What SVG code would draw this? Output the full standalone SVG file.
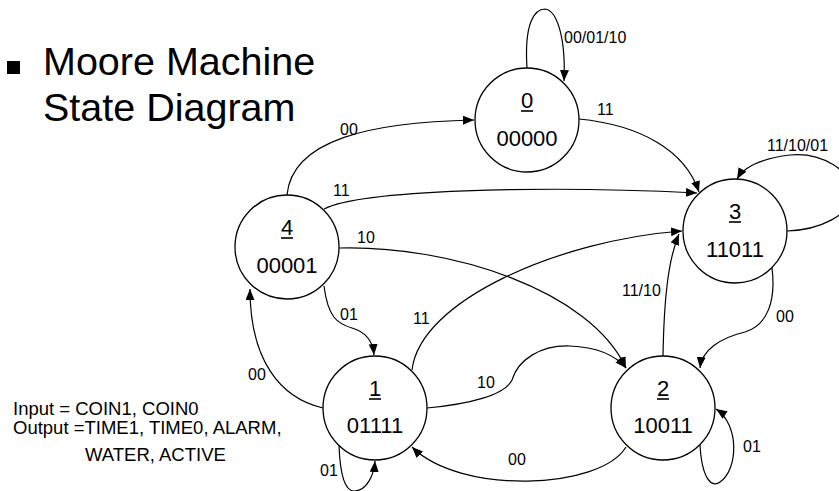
<svg xmlns="http://www.w3.org/2000/svg" width="839" height="491" viewBox="0 0 839 491">
<defs>
<marker id="ah" markerUnits="userSpaceOnUse" markerWidth="12" markerHeight="10" refX="11" refY="4.5" orient="auto">
<path d="M0,0 L11,4.5 L0,9 Z" fill="#000"/>
</marker>
<style>
.st{fill:#fff;stroke:#000;stroke-width:1.3}
.e{fill:none;stroke:#000;stroke-width:1.2}
.ea{fill:none;stroke:#000;stroke-width:1.2;marker-end:url(#ah)}
.t{font-family:"Liberation Sans",Arial,sans-serif;fill:#000}
.n{font-size:22px;text-anchor:middle}
.l{font-size:16px}
.g{font-size:18.5px}
.h{font-size:39.5px}
.ul{stroke:#000;stroke-width:1.6}
</style>
</defs>
<rect width="839" height="491" fill="#fff"/>
<g id="title">
<rect x="7" y="61" width="13" height="13" fill="#000"/>
<text class="t h" x="43" y="75">Moore Machine</text>
<text class="t h" x="43" y="121">State Diagram</text>
</g>
<g id="legend">
<text class="t g" x="13" y="415">Input = COIN1, COIN0</text>
<text class="t g" x="13" y="434">Output =TIME1, TIME0, ALARM,</text>
<text class="t g" x="85" y="461">WATER, ACTIVE</text>
</g>
<g id="connectors">
<path class="ea" d="M527,68 C524,22 535,9 545,9 C556,10 566,35 564,81"/>
<text class="t l" x="564" y="43">00/01/10</text>
<path class="ea" d="M287,195 C292,140 370,122 474,120"/>
<text class="t l" x="340" y="135">00</text>
<path class="ea" d="M579,119 C640,125 685,150 699,192"/>
<text class="t l" x="597" y="115">11</text>
<path class="ea" d="M324,209 C360,190 540,185 697,193"/>
<text class="t l" x="333" y="196">11</text>
<path class="ea" d="M339,248 C450,245 590,290 626,368"/>
<text class="t l" x="357" y="243">10</text>
<path class="ea" d="M324,286 C328,318 338,324 352,328 C366,332 373,342 374,355"/>
<text class="t l" x="340" y="320">01</text>
<path class="ea" d="M323,408 C280,398 250,360 250,289"/>
<text class="t l" x="248" y="380">00</text>
<path class="ea" d="M412,370 C420,300 560,240 682,231"/>
<text class="t l" x="413" y="324">11</text>
<path class="ea" d="M427,408 C470,404 505,395 512,380 C518,360 540,345 570,346 C595,347 615,355 626,368"/>
<text class="t l" x="477" y="388">10</text>
<path class="ea" d="M663,356 C664,300 668,260 679,234"/>
<text class="t l" x="622" y="296">11/10</text>
<path class="ea" d="M772,268 C776,300 768,325 745,332 C720,338 702,350 700,368"/>
<text class="t l" x="776" y="322">00</text>
<path class="ea" d="M787,231 C820,230 850,215 852,195 C854,170 820,152 790,155 C765,158 745,165 737,179"/>
<text class="t l" x="767" y="151">11/10/01</text>
<path class="ea" d="M700,445 C702,480 712,488 720,482 C738,470 740,425 716,409"/>
<text class="t l" x="743" y="452">01</text>
<path class="ea" d="M339,445 C340,475 345,492 355,491 C367,490 374,475 375,461"/>
<text class="t l" x="320" y="476">01</text>
<path class="ea" d="M626,447 C600,490 460,495 412,447"/>
<text class="t l" x="508" y="465">00</text>
</g>
<g id="s0">
<circle class="st" cx="527" cy="120" r="52"/>
<text class="t n" x="527" y="108">0</text>
<line class="ul" x1="521" y1="111" x2="533" y2="111"/>
<text class="t n" x="527" y="146">00000</text>
</g>
<g id="s1">
<circle class="st" cx="375" cy="408" r="52"/>
<text class="t n" x="375" y="396">1</text>
<line class="ul" x1="369" y1="399" x2="381" y2="399"/>
<text class="t n" x="375" y="433">01111</text>
</g>
<g id="s2">
<circle class="st" cx="663" cy="408" r="52"/>
<text class="t n" x="663" y="396">2</text>
<line class="ul" x1="657" y1="399" x2="669" y2="399"/>
<text class="t n" x="663" y="433">10011</text>
</g>
<g id="s3">
<circle class="st" cx="735" cy="231" r="52"/>
<text class="t n" x="735" y="219">3</text>
<line class="ul" x1="729" y1="222" x2="741" y2="222"/>
<text class="t n" x="735" y="257">11011</text>
</g>
<g id="s4">
<circle class="st" cx="287" cy="247" r="52"/>
<text class="t n" x="287" y="235">4</text>
<line class="ul" x1="281" y1="238" x2="293" y2="238"/>
<text class="t n" x="287" y="273">00001</text>
</g>
</svg>
